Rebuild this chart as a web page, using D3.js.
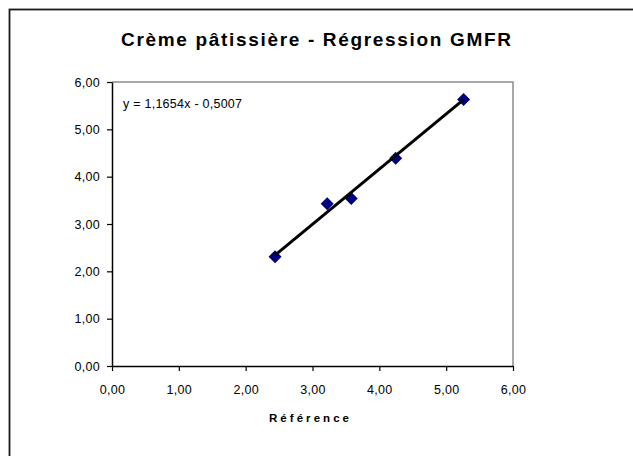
<!DOCTYPE html>
<html>
<head>
<meta charset="utf-8">
<script src="https://cdn.jsdelivr.net/npm/d3@7"></script>
<style>
  body { margin: 0; background: #fff; }
  text { font-family: 'Liberation Sans', Arial, sans-serif; fill: #000; }
</style>
</head>
<body>
<svg id="chart" width="633" height="456"></svg>
<script>
// valeurs
const reference = [2.44, 3.22, 3.58, 4.245, 5.26]
const mesure = [2.31, 3.43, 3.54, 4.39, 5.63]
const ticks = [0, 1, 2, 3, 4, 5, 6]
const slope = 1.1654
const intercept = -0.5007

const title = 'Crème pâtissière - Régression GMFR'
const xTitle = 'Référence'
const equation = 'y = 1,1654x - 0,5007'

const fmt = d => d3.format('.2f')(d).replace('.', ',')

const svg = d3.select('#chart')
const plot = { left: 112, top: 82, right: 513, bottom: 366 }

// cadre du graphique (coupé à droite et en bas)
svg.append('rect')
  .attr('x', 9.5).attr('y', 9.5)
  .attr('width', 700).attr('height', 500)
  .attr('fill', '#fff')
  .attr('stroke', '#1a1a1a')
  .attr('stroke-width', 1.8)

const x = d3.scaleLinear().domain([0, 6]).range([plot.left, plot.right])
const y = d3.scaleLinear().domain([0, 6]).range([plot.bottom, plot.top])

// bordure de la zone de traçage
svg.append('path')
  .attr('d', `M${plot.left},${plot.top}H${plot.right}V${plot.bottom}`)
  .attr('fill', 'none')
  .attr('stroke', '#8c8c8c')
  .attr('stroke-width', 1.5)

const xAxis = svg.append('g')
  .attr('transform', `translate(0,${plot.bottom})`)
  .call(d3.axisBottom(x).tickValues(ticks).tickFormat(fmt).tickSize(5).tickSizeOuter(0).tickPadding(14))
const yAxis = svg.append('g')
  .attr('transform', `translate(${plot.left},0)`)
  .call(d3.axisLeft(y).tickValues(ticks).tickFormat(fmt).tickSize(5).tickSizeOuter(0).tickPadding(7))

;[xAxis, yAxis].forEach(g => {
  g.select('.domain').attr('stroke', '#000').attr('stroke-width', 1.5)
  g.selectAll('.tick line').attr('stroke', '#000').attr('stroke-width', 1.2)
  g.selectAll('.tick text')
    .style('font-family', "'Liberation Sans', Arial, sans-serif")
    .style('font-size', '12.5px')
    .style('letter-spacing', '0.3px')
    .attr('fill', '#000')
})

// points
const pts = reference.map((r, i) => ({ r, m: mesure[i] }))
svg.append('g').selectAll('path')
  .data(pts)
  .enter()
  .append('path')
  .attr('d', 'M0,-6.5L6.5,0L0,6.5L-6.5,0Z')
  .attr('transform', d => `translate(${x(d.r)},${y(d.m)})`)
  .attr('fill', '#000080')

// droite de régression
const x0 = d3.min(reference)
const x1 = d3.max(reference)
svg.append('line')
  .attr('x1', x(x0)).attr('y1', y(slope * x0 + intercept))
  .attr('x2', x(x1)).attr('y2', y(slope * x1 + intercept))
  .attr('stroke', '#000')
  .attr('stroke-width', 3)

svg.append('text')
  .attr('x', 123).attr('y', 108)
  .style('font-size', '12.5px')
  .attr('textLength', 119)
  .attr('lengthAdjust', 'spacing')
  .text(equation)

svg.append('text')
  .attr('x', 316).attr('y', 46)
  .attr('text-anchor', 'middle')
  .style('font-size', '19px')
  .style('font-weight', 'bold')
  .attr('textLength', 390)
  .attr('lengthAdjust', 'spacing')
  .text(title)

svg.append('text')
  .attr('x', 309).attr('y', 422)
  .attr('text-anchor', 'middle')
  .style('font-size', '11.5px')
  .style('font-weight', 'bold')
  .attr('textLength', 80)
  .attr('lengthAdjust', 'spacing')
  .text(xTitle)
</script>
</body>
</html>
